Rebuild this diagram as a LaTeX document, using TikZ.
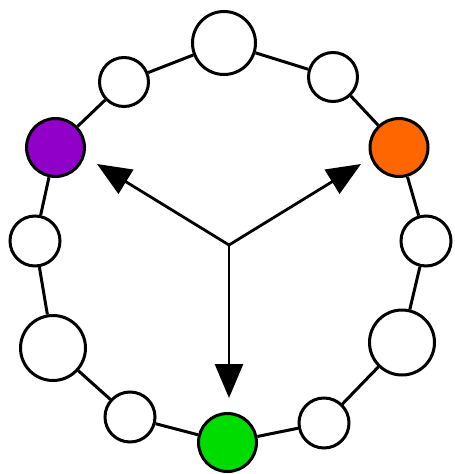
\documentclass[tikz,border=0pt]{standalone}
\usetikzlibrary{arrows.meta}
\definecolor{cpurple}{RGB}{145,0,200}
\definecolor{corange}{RGB}{255,102,0}
\definecolor{cgreen}{RGB}{0,220,0}
\begin{document}
\begin{tikzpicture}[x=1pt,y=-1pt,
  ball/.style={circle,draw=black,line width=3pt,fill=white,inner sep=0pt,minimum size=#1},
  link/.style={line width=3pt},
  ptr/.style={line width=2.8pt,-{Triangle[length=34pt,width=28pt]}}]
\useasboundingbox (0,0) rectangle (455,474);
\node[ball=63pt] (t) at (224,43) {};
\node[ball=49pt] (ul) at (124,82) {};
\node[ball=49pt] (ur) at (333,77) {};
\node[ball=58pt,fill=cpurple] (p) at (55.5,147.5) {};
\node[ball=58pt,fill=corange] (o) at (399,147.5) {};
\node[ball=50pt] (l) at (35,241) {};
\node[ball=50pt] (r) at (426,241) {};
\node[ball=65pt] (ll) at (53,348) {};
\node[ball=65pt] (rl) at (402,342.5) {};
\node[ball=50pt] (bl) at (130,417) {};
\node[ball=50pt] (br) at (324,423) {};
\node[ball=58pt,fill=cgreen] (g) at (227.5,442.5) {};
\draw[link] (t) -- (ur) (ur) -- (o) (o) -- (r) (r) -- (rl) (rl) -- (br) (br) -- (g)
  (g) -- (bl) (bl) -- (ll) (ll) -- (l) (l) -- (p) (p) -- (ul) (ul) -- (t);
\coordinate (c) at (229,245);
\coordinate (tl) at (97,164);
\coordinate (tr) at (361,164);
\coordinate (td) at (229,398);
\draw[ptr] (c) -- (tl);
\draw[ptr] (c) -- (tr);
\draw[ptr] (c) -- (td);
\end{tikzpicture}
\end{document}
